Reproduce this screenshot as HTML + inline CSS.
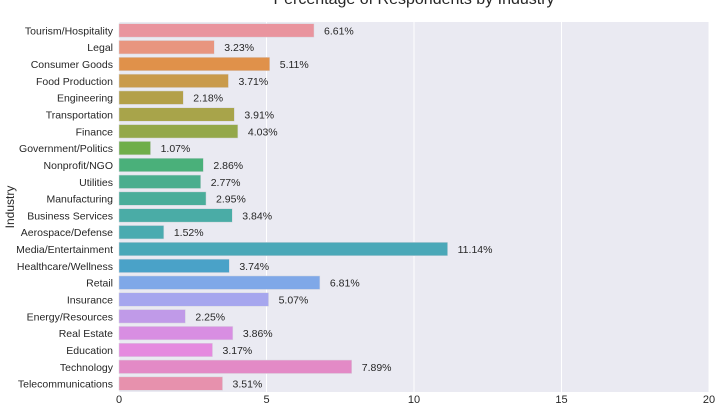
<!DOCTYPE html>
<html><head><meta charset="utf-8"><style>
body{margin:0;background:#fff;font-family:"Liberation Sans",sans-serif;}
svg text{font-family:"Liberation Sans",sans-serif;}
</style></head><body>
<svg id="chart" width="720" height="405" viewBox="0 0 720 405" xmlns="http://www.w3.org/2000/svg">
<text x="414" y="4" text-anchor="middle" font-size="16" fill="#262626">Percentage of Respondents by Industry</text>
<rect x="119" y="22" width="590" height="370" fill="#eaeaf2"/>
<g id="grid"></g><g id="bars"></g><g id="labels"></g><g id="xticks"></g>
<text transform="translate(14,207) rotate(-90)" text-anchor="middle" font-size="12" fill="#262626">Industry</text>
</svg>
<script>
const categories=["Tourism/Hospitality","Legal","Consumer Goods","Food Production","Engineering","Transportation","Finance","Government/Politics","Nonprofit/NGO","Utilities","Manufacturing","Business Services","Aerospace/Defense","Media/Entertainment","Healthcare/Wellness","Retail","Insurance","Energy/Resources","Real Estate","Education","Technology","Telecommunications"];
const values=[6.61,3.23,5.11,3.71,2.18,3.91,4.03,1.07,2.86,2.77,2.95,3.84,1.52,11.14,3.74,6.81,5.07,2.25,3.86,3.17,7.89,3.51];
const xTicks=[0,5,10,15,20];
const colors=["#e9949e","#e8957f","#e0914a","#c99a4a","#b3a04a","#a8a44a","#94a84a","#6fae4a","#4ab07a","#4aae8e","#4aad9a","#4aaca6","#4aabb0","#4aa8b8","#4aa2c8","#7fa8e8","#a6a6ee","#c09ae8","#d88ee2","#e58adf","#e38ac6","#e791ad"];
const NS="http://www.w3.org/2000/svg";
const X0=119,X1=709,Y0=22,Y1=392;
const x=v=>X0+(v/20)*(X1-X0);
const band=(Y1-Y0)/categories.length;
const y=i=>Y0+i*band;
function mk(t,a,p){const e=document.createElementNS(NS,t);for(const k in a)e.setAttribute(k,a[k]);document.getElementById(p).appendChild(e);return e;}
xTicks.forEach(t=>{
  const l=mk('line',{x1:x(t),x2:x(t),y1:Y0,y2:Y1,stroke:'#fff','stroke-width':1},'grid');
  
  
  const tx=mk('text',{x:x(t),y:403,'text-anchor':'middle','font-size':11,fill:'#262626'},'xticks');
  tx.textContent=t;
  
  
});
categories.forEach((c,i)=>{
  const h=band*0.8;
  const r=mk('rect',{x:X0,y:y(i)+band*0.1,width:x(values[i])-X0,height:h,fill:colors[i],stroke:'#d8d8e0','stroke-width':0.5},'bars');
  
  
  const cy=y(i)+band/2+4;
  const t=mk('text',{x:113,y:cy,'text-anchor':'end','font-size':10.5,fill:'#262626'},'labels');
  t.textContent=c;
  
  
  const v=mk('text',{x:x(values[i])+10,y:cy,'font-size':10.5,fill:'#262626'},'labels');
  v.textContent=values[i].toFixed(2)+'%';
  
  
});
</script>
</body></html>
